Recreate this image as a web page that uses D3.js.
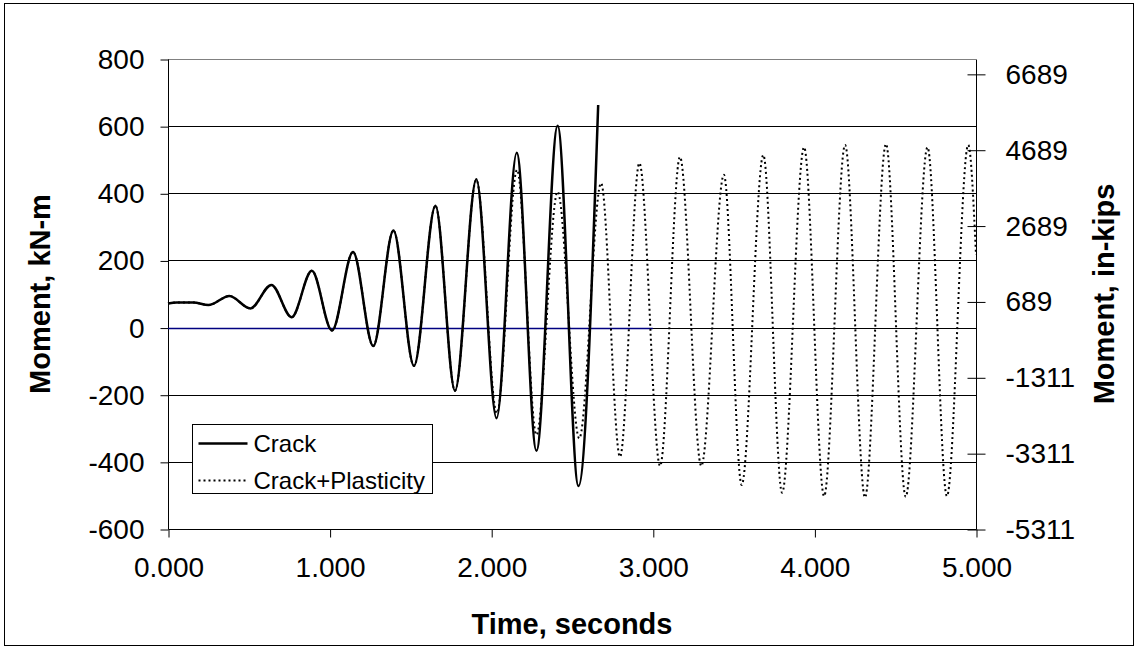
<!DOCTYPE html>
<html>
<head>
<meta charset="utf-8">
<script src="https://cdn.jsdelivr.net/npm/d3@7"></script>
<style>
  html, body { margin: 0; padding: 0; background: #fff; }
  svg { display: block; font-family: "Liberation Sans", Arial, sans-serif; }
</style>
</head>
<body>
<svg id="chart" width="1138" height="649"></svg>
<script>
// Moment time history: cracked section vs. cracked section with plasticity
// Time in seconds, moment in kN-m

const crackTime = [0, 0.054, 0.157, 0.25, 0.38, 0.51, 0.64, 0.765, 0.89, 1.015, 1.145, 1.27,
  1.395, 1.522, 1.655, 1.776, 1.908, 2.033, 2.158, 2.28, 2.411, 2.54, 2.662];
const crackMoment = [72, 75, 75, 67, 94, 57, 127, 31, 169, -9, 225, -55,
  289, -114, 363, -188, 442, -270, 521, -367, 601, -472, 663];

const plastTime = [0, 0.054, 0.157, 0.25, 0.38, 0.51, 0.64, 0.765, 0.89, 1.015, 1.145, 1.27,
  1.395, 1.522, 1.655, 1.776, 1.908, 2.035, 2.16, 2.28, 2.411, 2.545, 2.68, 2.797,
  2.917, 3.045, 3.168, 3.30, 3.44, 3.55, 3.684, 3.80, 3.936, 4.06, 4.19, 4.313,
  4.443, 4.565, 4.70, 4.82, 4.952, 5.0];
const plastMoment = [72, 75, 75, 67, 94, 57, 127, 31, 169, -9, 225, -55,
  289, -114, 363, -188, 440, -255, 470, -320, 405, -330, 430, -385,
  490, -412, 508, -412, 455, -469, 514, -492, 537, -502, 544, -506,
  547, -504, 537, -502, 544, 216];

const zeroTime = [0, 3.0];
const zeroMoment = [0, 0];

const xTicks = [0, 1, 2, 3, 4, 5];
const yTicks = [-600, -400, -200, 0, 200, 400, 600, 800];
const kipTicks = [-5311, -3311, -1311, 689, 2689, 4689, 6689];
const KNM_TO_INKIP = 8.8507;

const seriesNames = ["Crack", "Crack+Plasticity"];

const svg = d3.select("#chart");
const plot = { left: 168, right: 976, top: 59, bottom: 529 };

// plain hyphen for negative numbers
const intFmt = d => String(Math.round(d));

// outer frame
svg.append("rect")
  .attr("x", 4.5).attr("y", 3.5).attr("width", 1129).attr("height", 642)
  .attr("fill", "#fff").attr("stroke", "#000").attr("stroke-width", 1);

const x = d3.scaleLinear().domain([0, 5]).range([plot.left, plot.right]);
const y = d3.scaleLinear().domain([-600, 800]).range([plot.bottom, plot.top]);
const y2 = d3.scaleLinear().domain([-600 * KNM_TO_INKIP, 800 * KNM_TO_INKIP]).range([plot.bottom, plot.top]);

// horizontal gridlines
svg.append("g")
  .selectAll("line")
  .data(yTicks.filter(v => v !== -600))
  .join("line")
  .attr("x1", plot.left).attr("x2", plot.right)
  .attr("y1", d => Math.round(y(d)) + 0.5).attr("y2", d => Math.round(y(d)) + 0.5)
  .attr("stroke", d => d === 800 ? "#808080" : "#000")
  .attr("stroke-width", 1);

// left axis
const yAxis = d3.axisLeft(y).tickValues(yTicks).tickSize(8).tickPadding(16).tickFormat(intFmt);
const gy = svg.append("g").attr("transform", `translate(${plot.left + 0.5},0.5)`).call(yAxis);
gy.select(".domain").attr("d", `M0,${y(800)}V${y(-600)}`).attr("stroke", "#000");
gy.selectAll(".tick line").attr("stroke", "#000");
gy.selectAll(".tick text").attr("font-size", 28).attr("fill", "#000")
  .attr("font-family", "Liberation Sans, Arial, sans-serif");

// bottom axis
const xAxis = d3.axisBottom(x).tickValues(xTicks).tickSize(8).tickPadding(20).tickFormat(d3.format(".3f"));
const gx = svg.append("g").attr("transform", `translate(0.5,${plot.bottom + 0.5})`).call(xAxis);
gx.select(".domain").attr("d", `M${plot.left},0H${plot.right}`).attr("stroke", "#000");
gx.selectAll(".tick line").attr("stroke", "#000");
gx.selectAll(".tick text").attr("font-size", 28).attr("fill", "#000")
  .attr("font-family", "Liberation Sans, Arial, sans-serif");

// right axis (in-kips), ticks crossing the axis line
const yAxis2 = d3.axisRight(y2).tickValues(kipTicks).tickSize(9).tickPadding(20).tickFormat(intFmt);
const gy2 = svg.append("g").attr("transform", `translate(${plot.right + 0.5},0.5)`).call(yAxis2);
gy2.select(".domain").attr("d", `M0,${plot.top}V${plot.bottom}`).attr("stroke", "#000");
gy2.selectAll(".tick line").attr("x1", -9).attr("stroke", "#000");
gy2.selectAll(".tick text").attr("font-size", 28).attr("fill", "#000")
  .attr("font-family", "Liberation Sans, Arial, sans-serif");

// series
const line = d3.line().x(d => x(d[0])).y(d => y(d[1])).curve(d3.curveMonotoneX);
const zip = (a, b) => a.map((v, i) => [v, b[i]]);

svg.append("path")
  .datum(zip(zeroTime, zeroMoment))
  .attr("d", d3.line().x(d => x(d[0])).y(d => Math.round(y(d[1])) + 0.5))
  .attr("fill", "none").attr("stroke", "#000080").attr("stroke-width", 1.5);

svg.append("path")
  .datum(zip(plastTime, plastMoment))
  .attr("d", line)
  .attr("fill", "none").attr("stroke", "#000").attr("stroke-width", 2)
  .attr("stroke-dasharray", "2,3");

svg.append("path")
  .datum(zip(crackTime, crackMoment))
  .attr("d", line)
  .attr("fill", "none").attr("stroke", "#000").attr("stroke-width", 2.5);

// axis titles
svg.append("text")
  .attr("transform", `translate(40,${(plot.top + plot.bottom) / 2}) rotate(-90)`)
  .attr("text-anchor", "middle").attr("dominant-baseline", "central")
  .attr("font-size", 29).attr("font-weight", "bold")
  .text("Moment, kN-m");

svg.append("text")
  .attr("transform", `translate(1104,${(plot.top + plot.bottom) / 2}) rotate(-90)`)
  .attr("text-anchor", "middle").attr("dominant-baseline", "central")
  .attr("font-size", 29).attr("font-weight", "bold")
  .text("Moment, in-kips");

svg.append("text")
  .attr("x", (plot.left + plot.right) / 2).attr("y", 634)
  .attr("text-anchor", "middle")
  .attr("font-size", 29).attr("font-weight", "bold")
  .text("Time, seconds");

// legend
const lg = svg.append("g").attr("transform", "translate(192.5,424.5)");
lg.append("rect").attr("width", 240).attr("height", 69)
  .attr("fill", "#fff").attr("stroke", "#000").attr("stroke-width", 1);
const items = lg.selectAll("g.item").data(seriesNames).join("g")
  .attr("class", "item")
  .attr("transform", (d, i) => `translate(0,${19 + i * 37})`);
items.append("line")
  .attr("x1", 6).attr("x2", 55).attr("y1", 0).attr("y2", 0)
  .attr("stroke", "#000")
  .attr("stroke-width", (d, i) => i === 0 ? 2.5 : 2)
  .attr("stroke-dasharray", (d, i) => i === 0 ? null : "2,3");
items.append("text")
  .attr("x", 61).attr("y", 0).attr("dy", "0.36em")
  .attr("font-size", 24).attr("fill", "#000")
  .text(d => d);
</script>
</body>
</html>
